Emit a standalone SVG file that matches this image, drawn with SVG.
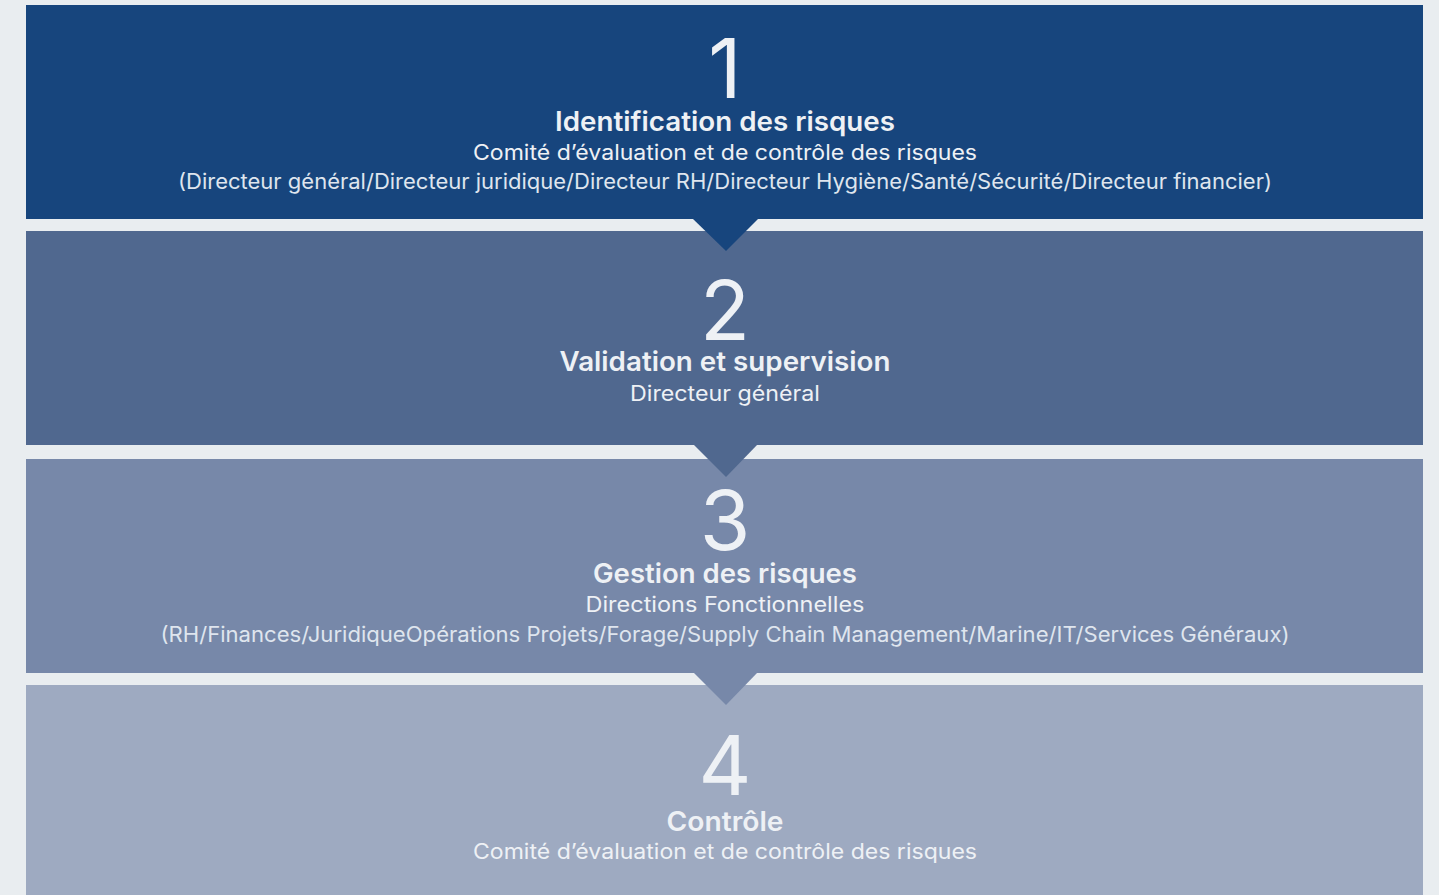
<svg xmlns="http://www.w3.org/2000/svg" width="1439" height="895" viewBox="0 0 1439 895">
  <style>
    text { font-family: Inter, "Noto Sans", "Liberation Sans", sans-serif; text-anchor: middle; fill: #eef1f5; }
    .num { font-size: 82px; font-weight: 400; }
    .title { font-size: 27px; font-weight: 600; }
    .sub { font-size: 21px; font-weight: 400; }
    .det { font-size: 21px; font-weight: 400; fill: #dfe5ee; }
  </style>
  <rect x="0" y="0" width="1439" height="895" fill="#e9edf0"/>
  <g id="step4">
    <rect x="26" y="685" width="1397" height="210" fill="#9eaac1"/>
    <text class="num" x="725" y="795">4</text>
    <text class="title" x="725" y="831" textLength="117" lengthAdjust="spacingAndGlyphs">Contrôle</text>
    <text class="sub" x="725" y="859" textLength="504" lengthAdjust="spacingAndGlyphs">Comité d’évaluation et de contrôle des risques</text>
  </g>
  <g id="step3">
    <rect x="26" y="459" width="1397" height="214" fill="#7788a9"/>
    <text class="num" x="725" y="550">3</text>
    <text class="title" x="725" y="583" textLength="264" lengthAdjust="spacingAndGlyphs">Gestion des risques</text>
    <text class="sub" x="725" y="612" textLength="279" lengthAdjust="spacingAndGlyphs">Directions Fonctionnelles</text>
    <text class="det" x="725" y="642" textLength="1129" lengthAdjust="spacingAndGlyphs">(RH/Finances/JuridiqueOpérations Projets/Forage/Supply Chain Management/Marine/IT/Services Généraux)</text>
  </g>
  <g id="step2">
    <rect x="26" y="231" width="1397" height="214" fill="#50688f"/>
    <text class="num" x="725" y="340">2</text>
    <text class="title" x="725" y="371" textLength="331" lengthAdjust="spacingAndGlyphs">Validation et supervision</text>
    <text class="sub" x="725" y="401" textLength="190" lengthAdjust="spacingAndGlyphs">Directeur général</text>
  </g>
  <g id="step1">
    <rect x="26" y="5" width="1397" height="214" fill="#17457d"/>
    <text class="num" x="725" y="98">1</text>
    <text class="title" x="725" y="131" textLength="340" lengthAdjust="spacingAndGlyphs">Identification des risques</text>
    <text class="sub" x="725" y="160" textLength="504" lengthAdjust="spacingAndGlyphs">Comité d’évaluation et de contrôle des risques</text>
    <text class="det" x="725" y="189" textLength="1094" lengthAdjust="spacingAndGlyphs">(Directeur général/Directeur juridique/Directeur RH/Directeur Hygiène/Santé/Sécurité/Directeur financier)</text>
  </g>
  <g id="connectors">
    <polygon points="692,218 759,218 726,251" fill="#17457d"/>
    <polygon points="693,444 758,444 726,477" fill="#50688f"/>
    <polygon points="693,672 758,672 726,705" fill="#7788a9"/>
  </g>
</svg>
